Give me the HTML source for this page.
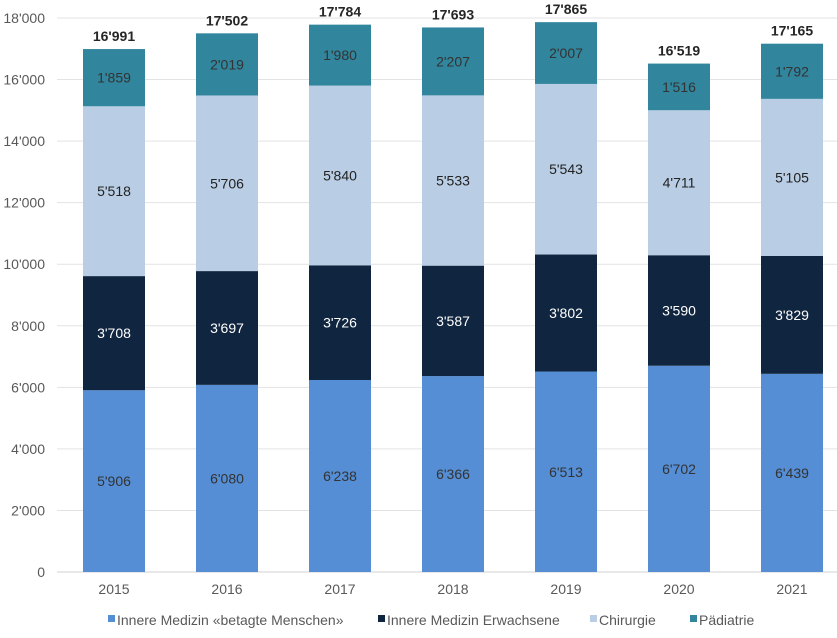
<!DOCTYPE html>
<html><head><meta charset="utf-8">
<style>
body{margin:0;background:#fff;font-family:"Liberation Sans",Arial,sans-serif;}
svg text{font-family:"Liberation Sans",Arial,sans-serif;}
</style></head>
<body>
<svg id="chart" width="837" height="633" xmlns="http://www.w3.org/2000/svg"></svg>
<script>
const years=["2015","2016","2017","2018","2019","2020","2021"];
const betagte=[5906,6080,6238,6366,6513,6702,6439];
const erwachsene=[3708,3697,3726,3587,3802,3590,3829];
const chirurgie=[5518,5706,5840,5533,5543,4711,5105];
const paediatrie=[1859,2019,1980,2207,2007,1516,1792];
const totals=[16991,17502,17784,17693,17865,16519,17165];
const yTicks=[0,2000,4000,6000,8000,10000,12000,14000,16000,18000];

const svg=document.getElementById('chart');
const NS="http://www.w3.org/2000/svg";
const x0=57,x1=837,yBase=572,yTop=18,yMax=18000;
const band=113, bw=62;
const y=v=>yBase-(v/yMax)*(yBase-yTop);
const xc=i=>114+band*i;
const fmt=v=>{const s=String(v);return s.length>3?s.slice(0,-3)+"'"+s.slice(-3):s;};
function mk(tag,attrs,txt){const e=document.createElementNS(NS,tag);for(const k in attrs)e.setAttribute(k,attrs[k]);if(txt!==undefined)e.textContent=txt;svg.appendChild(e);return e;}

yTicks.forEach(t=>{
  const l=mk('line',{x1:x0,x2:x1,y1:y(t),y2:y(t),stroke:t===0?'#d0d0d0':'#e3e3e3','stroke-width':1});
  
  
  const tx=mk('text',{x:45,y:y(t)+5,'text-anchor':'end','font-size':14,fill:'#595959'},fmt(t));
  
  
});

const series=[
  {name:'betagte',vals:betagte,color:'#558ed5',tc:'#333'},
  {name:'erwachsene',vals:erwachsene,color:'#10253f',tc:'#fff'},
  {name:'chirurgie',vals:chirurgie,color:'#b9cde5',tc:'#222'},
  {name:'paediatrie',vals:paediatrie,color:'#31859c',tc:'#333'}
];
years.forEach((yr,i)=>{
  let cum=0;
  series.forEach(s=>{
    const v=s.vals[i];
    const r=mk('rect',{x:xc(i)-bw/2,y:y(cum+v),width:bw,height:y(cum)-y(cum+v),fill:s.color});
    
    
    const t=mk('text',{x:xc(i),y:y(cum+v/2)+5,'text-anchor':'middle','font-size':14,fill:s.tc},fmt(v));
    
    
    cum+=v;
  });
  const tt=mk('text',{x:xc(i),y:y(totals[i])-8,'text-anchor':'middle','font-size':14,'font-weight':'bold',fill:'#262626'},fmt(totals[i]));
  
  
  const xl=mk('text',{x:xc(i),y:594,'text-anchor':'middle','font-size':14,fill:'#595959'},yr);
  
  
});

const legend=[["Innere Medizin «betagte Menschen»",'#558ed5',108],["Innere Medizin Erwachsene",'#10253f',378],["Chirurgie",'#b9cde5',590],["Pädiatrie",'#31859c',690]];
legend.forEach(l=>{
  const r=mk('rect',{x:l[2],y:615,width:7,height:7,fill:l[1]});
  
  
  const t=mk('text',{x:l[2]+9,y:625,'font-size':14,fill:'#595959'},l[0]);
  
  
});
</script>
</body></html>
